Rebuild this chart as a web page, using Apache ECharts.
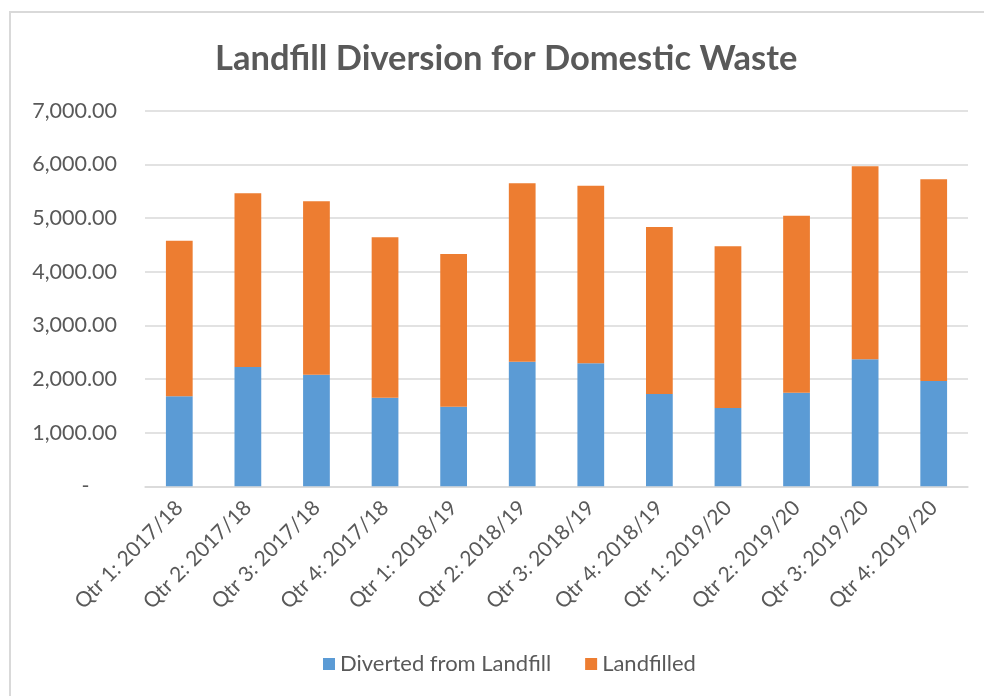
<!DOCTYPE html>
<html>
<head>
<meta charset="utf-8">
<script src="https://cdn.jsdelivr.net/npm/echarts@6/dist/echarts.min.js"></script>
<style>
html,body{margin:0;padding:0;background:#fff;}
#c{width:984px;height:696px;}
</style>
</head>
<body>
<div id="c"></div>
<script>
const categories = ["Qtr 1: 2017/18","Qtr 2: 2017/18","Qtr 3: 2017/18","Qtr 4: 2017/18",
  "Qtr 1: 2018/19","Qtr 2: 2018/19","Qtr 3: 2018/19","Qtr 4: 2018/19",
  "Qtr 1: 2019/20","Qtr 2: 2019/20","Qtr 3: 2019/20","Qtr 4: 2019/20"];
const diverted = [1677, 2223, 2080, 1651, 1483, 2322, 2292, 1720, 1459, 1744, 2366, 1962];
const landfilled = [2899, 3236, 3230, 2988, 2845, 3324, 3309, 3111, 3013, 3298, 3596, 3758];
const yTicks = [0, 1000, 2000, 3000, 4000, 5000, 6000, 7000];

const FONT = 'Lato';
const chart = echarts.init(document.getElementById('c'));
chart.setOption({
  animation: false,
  backgroundColor: '#fff',
  title: {
    text: 'Landfill Diversion for Domestic Waste',
    left: 215,
    top: 41,
    padding: 0,
    textStyle: {fontFamily: FONT, fontSize: 34.5, fontWeight: 'bold', color: '#595959'}
  },
  graphic: [{
    type: 'rect', z: -1, silent: true,
    shape: {x: 10, y: 12, width: 1000, height: 700},
    style: {fill: 'none', stroke: '#D9D9D9', lineWidth: 2}
  }],
  legend: {
    bottom: 16,
    left: 318,
    icon: 'rect',
    itemWidth: 12,
    itemHeight: 12,
    itemGap: 34,
    textStyle: {fontFamily: FONT, fontSize: 22, color: '#595959'},
    data: ['Diverted from Landfill', 'Landfilled']
  },
  grid: {left: 145, right: 16, top: 110.6, bottom: 209.7, containLabel: false},
  xAxis: {
    type: 'category',
    data: categories,
    axisLine: {lineStyle: {color: '#D9D9D9', width: 1.5}},
    axisTick: {show: false},
    axisLabel: {rotate: 45, margin: 18, fontFamily: FONT, fontSize: 21, color: '#595959', interval: 0}
  },
  yAxis: {
    type: 'value',
    min: yTicks[0],
    max: yTicks[yTicks.length - 1],
    interval: 1000,
    axisLine: {show: false},
    axisTick: {show: false},
    splitLine: {lineStyle: {color: '#D9D9D9', width: 1.5}},
    axisLabel: {
      margin: 28, fontFamily: FONT, fontSize: 21.5, color: '#595959',
      formatter: v => v === 0 ? '-     ' : v.toLocaleString('en-US', {minimumFractionDigits: 2, maximumFractionDigits: 2})
    }
  },
  series: [
    {name: 'Diverted from Landfill', type: 'bar', stack: 'a', data: diverted, barWidth: '39%',
     itemStyle: {color: '#5B9BD5'}},
    {name: 'Landfilled', type: 'bar', stack: 'a', data: landfilled, barWidth: '39%',
     itemStyle: {color: '#ED7D31'}}
  ]
});
</script>
</body>
</html>
